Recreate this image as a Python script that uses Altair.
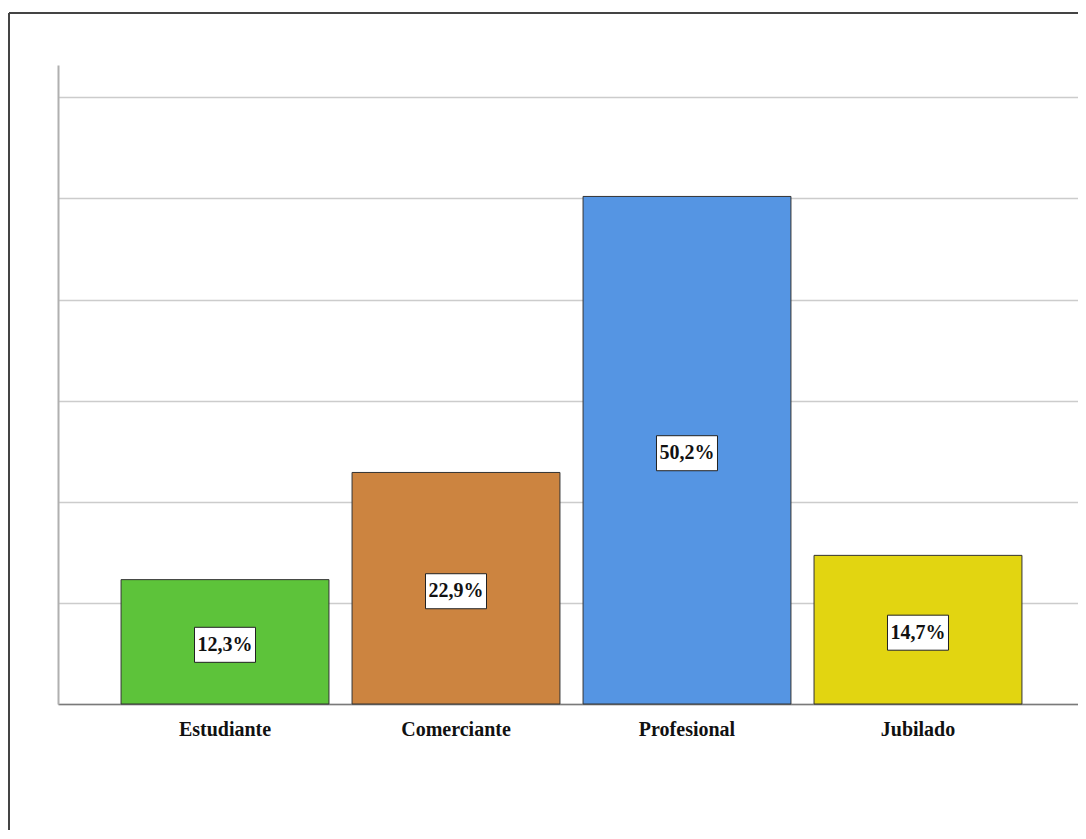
import altair as alt
import pandas as pd

categories = ["Estudiante", "Comerciante", "Profesional", "Jubilado"]
values = [12.3, 22.9, 50.2, 14.7]
labels = ["12,3%", "22,9%", "50,2%", "14,7%"]
colors = ["#5dc33a", "#cc8440", "#5595e3", "#e2d511"]

df = pd.DataFrame({"cat": categories, "val": values, "lab": labels})
df["mid"] = df["val"] / 2

W, H = 1020, 639
FONT = "Liberation Serif"

x_scale = alt.Scale(paddingInner=0.1, paddingOuter=0.273, range=[0, 1027])
x = alt.X("cat:N", sort=categories, title=None, scale=x_scale,
          axis=alt.Axis(labelAngle=0, ticks=False, domainColor="#7a7a7a", domainWidth=1.5,
                        labelFont=FONT, labelFontWeight="bold", labelFontSize=20,
                        labelColor="#111", labelPadding=15, grid=False))
y_scale = alt.Scale(domain=[0, 63.2], nice=False)

bars = alt.Chart(df).mark_bar(stroke="#333", strokeWidth=1).encode(
    x=x,
    y=alt.Y("val:Q", scale=y_scale, title=None,
            axis=alt.Axis(values=[0, 10, 20, 30, 40, 50, 60], labels=False, ticks=False,
                          domainColor="#b0b0b0", domainWidth=2, grid=True,
                          gridColor="#cccccc", gridWidth=1.5)),
    color=alt.Color("cat:N", sort=categories, legend=None,
                    scale=alt.Scale(domain=categories, range=colors)),
)

boxes = alt.Chart(df).mark_point(
    shape="M-1,-0.574H1V0.574H-1Z", size=61 * 61, filled=True,
    fill="white", stroke="#222", strokeWidth=1, opacity=1, yOffset=3,
).encode(x=alt.X("cat:N", sort=categories), y=alt.Y("mid:Q", scale=y_scale))

texts = alt.Chart(df).mark_text(
    font=FONT, fontWeight="bold", fontSize=20, color="#111", baseline="middle", yOffset=3,
).encode(x=alt.X("cat:N", sort=categories), y=alt.Y("mid:Q", scale=y_scale), text="lab:N")

frame_left = alt.Chart(df).mark_rule(color="#444", strokeWidth=2).encode(
    x=alt.value(-49), y=alt.value(-52), y2=alt.value(900))
frame_top = alt.Chart(df).mark_rule(color="#444", strokeWidth=2).encode(
    x=alt.value(-49), x2=alt.value(1100), y=alt.value(-52))

chart = alt.layer(bars, boxes, texts, frame_left, frame_top).properties(
    width=W, height=H,
    autosize=alt.AutoSizeParams(type="none"),
    padding={"left": 50, "top": 57, "right": 0, "bottom": 126},
).configure(background="white").configure_view(stroke=None)

chart.save("out.html", embed_options={"renderer": "svg", "actions": False})
